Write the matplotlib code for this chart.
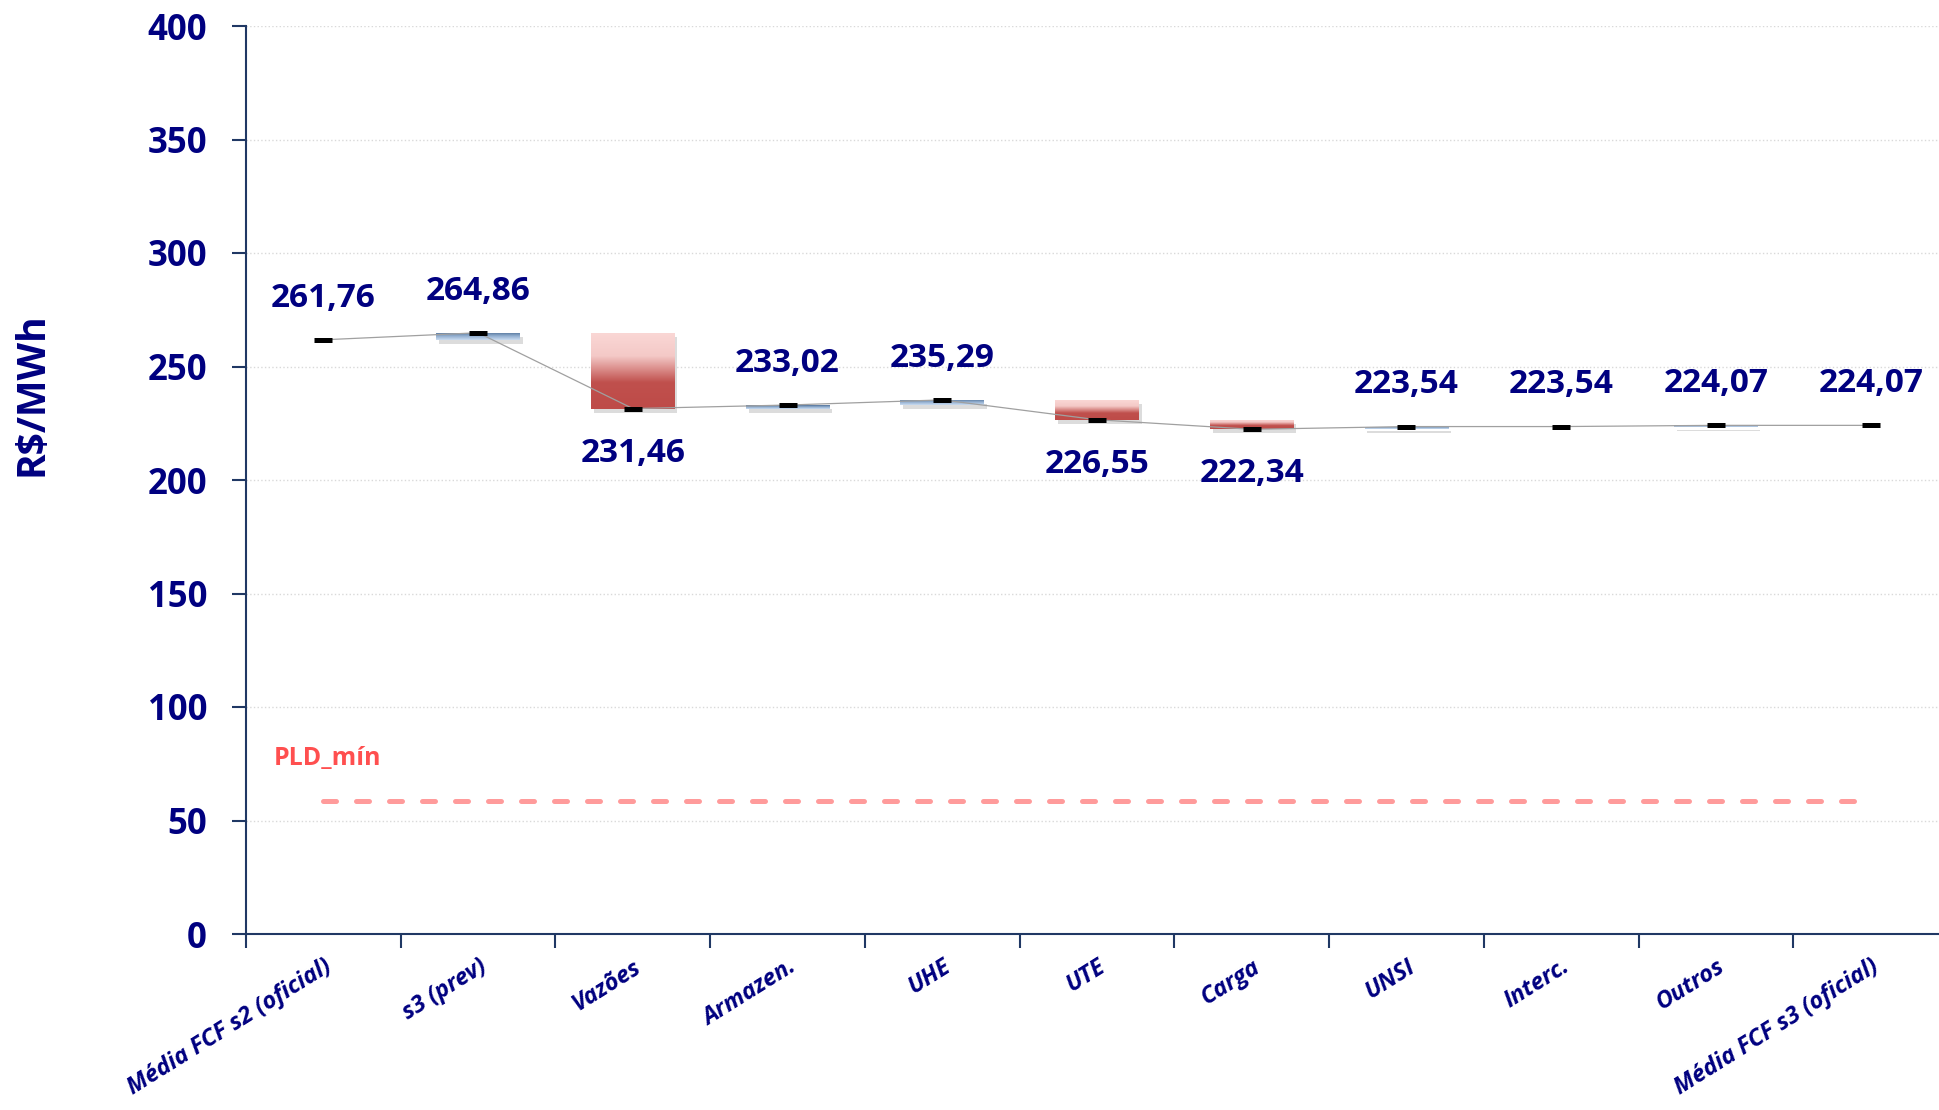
import numpy as np
import matplotlib.pyplot as plt
import matplotlib.patheffects as pe
from matplotlib.patches import Rectangle
from matplotlib.colors import LinearSegmentedColormap

categories = ['Média FCF s2 (oficial)', 's3 (prev)', 'Vazões', 'Armazen.', 'UHE',
              'UTE', 'Carga', 'UNSI', 'Interc.', 'Outros', 'Média FCF s3 (oficial)']
values = [261.76, 264.86, 231.46, 233.02, 235.29, 226.55, 222.34, 223.54, 223.54, 224.07, 224.07]
label_above = [True, True, False, True, True, False, False, True, True, True, True]
pld_min = 58.6
yticks = [0, 50, 100, 150, 200, 250, 300, 350, 400]

navy = '#000080'
spine = '#203864'
plt.rcParams['font.family'] = ['Open Sans', 'DejaVu Sans']

fig = plt.figure(figsize=(19.39, 11.10), dpi=100)
ax = fig.add_axes([246/1939, 176/1110, 1702/1939, 908/1110])

red_cmap = LinearSegmentedColormap.from_list('r', [(0, '#FAD7D5'), (0.3, '#F4C9C7'),
                                                   (0.65, '#C0504D'), (1, '#BE4B48')])
blue_cmap = LinearSegmentedColormap.from_list('b', [(0, '#4F7098'), (0.5, '#93AFD0'),
                                                    (1, '#CADCF1')])
grad = np.linspace(0, 1, 256).reshape(-1, 1)

centers = np.arange(len(values)) + 0.5
w = 0.54

# floating bars (waterfall steps)
for i in range(1, len(values) - 1):
    prev, cur = values[i - 1], values[i]
    if cur == prev:
        continue
    lo, hi = min(prev, cur), max(prev, cur)
    cmap = blue_cmap if cur > prev else red_cmap
    rect = Rectangle((centers[i] - w / 2, lo), w, hi - lo, facecolor=cmap(1.0),
                     edgecolor='none', zorder=2,
                     path_effects=[pe.SimplePatchShadow(offset=(2, -3), shadow_rgbFace='#8C8C8C', alpha=0.3),
                                   pe.Normal()])
    ax.add_patch(rect)
    im = ax.imshow(grad, cmap=cmap, aspect='auto', origin='upper', zorder=2.5,
                   extent=(centers[i] - w / 2, centers[i] + w / 2, lo, hi))
    im.set_clip_path(rect)

# connecting line and value markers
ax.plot(centers, values, color='#A0A0A0', lw=0.9, zorder=3)
ax.plot(centers, values, ls='none', marker='_', ms=13.5, mew=3.6, color='black', zorder=4)

for c, v, up in zip(centers, values, label_above):
    ax.annotate(f'{v:.2f}'.replace('.', ','), (c, v), xytext=(0, 30 if up else -32),
                textcoords='offset points', ha='center', va='center',
                fontsize=24, fontweight='bold', color=navy, zorder=5)

# PLD minimum
ax.plot([centers[0], centers[-1]], [pld_min, pld_min], color='#FF9B9B', lw=3.6,
        ls=(0, (2.6, 4)), dash_capstyle='round', zorder=3)
ax.text(0.18, 77.5, 'PLD_mín', color='#FF4F4F', fontsize=18, fontweight='bold',
        ha='left', va='center')

ax.set_xlim(0, len(values))
ax.set_ylim(0, 400)
ax.set_yticks(yticks)
ax.set_yticklabels([str(t) for t in yticks], fontsize=25, fontweight='bold', color=navy)
ax.yaxis.grid(True, color='#D9D9D9', ls=':', lw=1)
ax.set_axisbelow(True)

ax.set_xticks(np.arange(len(values) + 1))
ax.set_xticklabels([])
ax.set_xticks(centers, minor=True)
ax.set_xticklabels(categories, minor=True, fontsize=17, fontweight='bold',
                   fontstyle='italic', color=navy, rotation=32, ha='right',
                   rotation_mode='anchor')
ax.tick_params(axis='x', which='minor', length=0, pad=15)
ax.tick_params(axis='x', which='major', length=10, width=1.5, color=spine, direction='out')
ax.tick_params(axis='y', length=10, width=1.5, color=spine, pad=18)

for s in ['top', 'right']:
    ax.spines[s].set_visible(False)
for s in ['left', 'bottom']:
    ax.spines[s].set_color(spine)
    ax.spines[s].set_linewidth(1.5)

fig.text(32/1939, 1 - 394/1110, 'R$/MWh', rotation=90, ha='center', va='center',
         fontsize=28, fontweight='bold', color=navy)

fig.savefig('out.png', dpi=100)
